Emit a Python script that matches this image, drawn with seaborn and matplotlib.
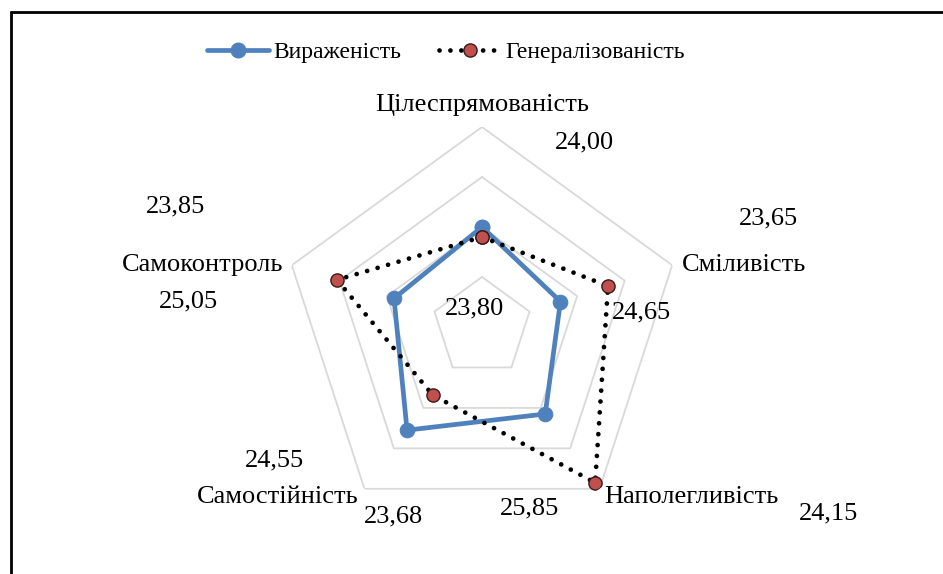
import numpy as np
import pandas as pd
import seaborn as sns
import matplotlib
matplotlib.use('Agg')
from matplotlib import pyplot as plt
from matplotlib.lines import Line2D

# data
categories = ['Цілеспрямованість', 'Сміливість', 'Наполегливість', 'Самостійність', 'Самоконтроль']
vyrazhenist = [24.00, 23.65, 24.15, 24.55, 23.85]
generalizovanist = [23.80, 24.65, 25.85, 23.68, 25.05]
series_names = ['Вираженість', 'Генералізованість']
ring_values = [23, 24, 25, 26]
r_min, r_max = 22, 26

# label offsets (pixels) from each point, as placed in the original
blue_offsets = [(102, 85), (208, 83), (283, -99), (-133, -30), (-219, 92)]
red_offsets = [(-7, -71), (33, -26), (-66, -26), (-39, -121), (-149, -22)]
cat_offsets = [((0, 22), 'center'), ((10, 0), 'left'), ((5, -8), 'left'),
               ((-6, -8), 'right'), ((-9, 0), 'right')]

sns.set_theme(style='white')
plt.rcParams['font.family'] = ['Liberation Serif', 'DejaVu Serif']
plt.rcParams['text.color'] = 'black'

W, H = 943, 574
fig = plt.figure(figsize=(W / 100, H / 100), dpi=100)
cx, cy, R = 482, 327, 200
ax = fig.add_axes([(cx - R) / W, (H - cy - R) / H, 2 * R / W, 2 * R / H], projection='polar')
ax.set_theta_offset(np.pi / 2)
ax.set_theta_direction(-1)

n = len(categories)
theta = np.linspace(0, 2 * np.pi, n, endpoint=False)
theta_closed = np.append(theta, 2 * np.pi)

# pentagon grid
for rv in ring_values:
    ax.plot(theta_closed, [rv] * (n + 1), color='#D9D9D9', lw=1.3, zorder=1)

df_b = pd.DataFrame({'theta': theta_closed, 'value': vyrazhenist + vyrazhenist[:1]})
df_r = pd.DataFrame({'theta': theta_closed, 'value': generalizovanist + generalizovanist[:1]})

sns.lineplot(data=df_b, x='theta', y='value', sort=False, estimator=None, ax=ax,
             color='#4F81BD', lw=3.4, marker='o', markersize=10.5,
             markeredgecolor='#4F81BD', zorder=3)
sns.lineplot(data=df_r, x='theta', y='value', sort=False, estimator=None, ax=ax,
             color='black', lw=3.4, marker='o', markersize=9.5,
             markerfacecolor='#C0504D', markeredgecolor='#3a1a1a', markeredgewidth=1,
             zorder=4)
blue_line, red_line = ax.lines[-2], ax.lines[-1]
red_line.set_dashes((0.01, 2.3))
red_line.set_dash_capstyle('round')

ax.set_ylim(r_min, r_max)
ax.set_xticks([])
ax.set_yticks([])
ax.grid(False)
ax.spines['polar'].set_visible(False)
ax.set_xlabel('')
ax.set_ylabel('')
if ax.get_legend():
    ax.get_legend().remove()

fs = 19
for t, v, off in zip(theta, vyrazhenist, blue_offsets):
    ax.annotate(f'{v:.2f}'.replace('.', ','), xy=(t, v), xytext=off,
                textcoords='offset pixels', ha='center', va='center', fontsize=fs)
for t, v, off in zip(theta, generalizovanist, red_offsets):
    ax.annotate(f'{v:.2f}'.replace('.', ','), xy=(t, v), xytext=off,
                textcoords='offset pixels', ha='center', va='center', fontsize=fs, zorder=5)
for t, name, (off, ha) in zip(theta, categories, cat_offsets):
    ax.annotate(name, xy=(t, r_max), xytext=off, textcoords='offset pixels',
                ha=ha, va='center', fontsize=fs, annotation_clip=False)

handles = [
    Line2D([], [], color='#4F81BD', lw=3.4, marker='o', markersize=10.5),
    Line2D([], [], color='black', lw=3.4, dashes=(0.01, 2.3), dash_capstyle='round',
           marker='o', markersize=9.5, markerfacecolor='#C0504D', markeredgecolor='#3a1a1a',
           markeredgewidth=1),
]
fig.legend(handles, series_names, loc='center', bbox_to_anchor=(446 / W, 1 - 52 / H),
           ncol=2, frameon=False, fontsize=17, handlelength=2.6, columnspacing=1.6,
           handletextpad=0.2)

# frame as in the source image
fig.add_artist(Line2D([11 / W, 11 / W], [0, 1 - 12 / H], color='black', lw=2))
fig.add_artist(Line2D([11 / W, 1], [1 - 12 / H, 1 - 12 / H], color='black', lw=2))

fig.savefig('out.png', dpi=100)
